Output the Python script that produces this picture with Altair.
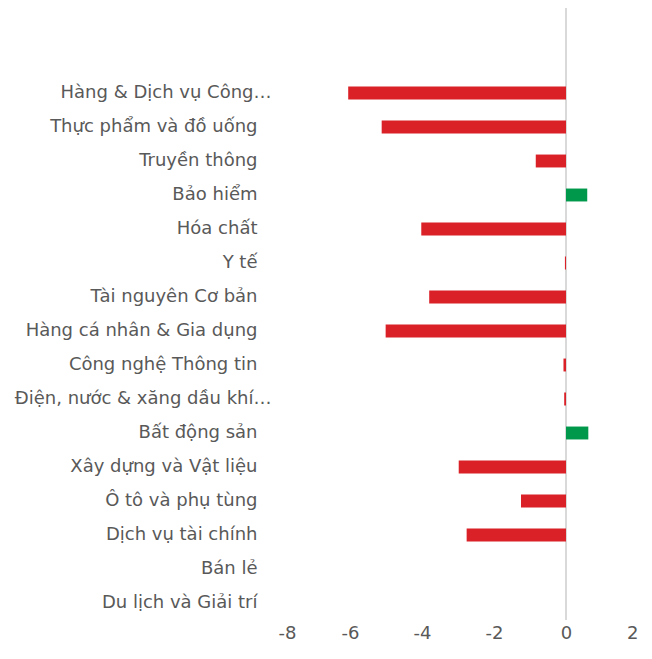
import altair as alt
import pandas as pd

categories = [
    "Hàng & Dịch vụ Công…",
    "Thực phẩm và đồ uống",
    "Truyền thông",
    "Bảo hiểm",
    "Hóa chất",
    "Y tế",
    "Tài nguyên Cơ bản",
    "Hàng cá nhân & Gia dụng",
    "Công nghệ Thông tin",
    "Điện, nước & xăng dầu khí…",
    "Bất động sản",
    "Xây dựng và Vật liệu",
    "Ô tô và phụ tùng",
    "Dịch vụ tài chính",
    "Bán lẻ",
    "Du lịch và Giải trí",
]
values = [-6.05, -5.12, -0.84, 0.59, -4.02, -0.03, -3.80, -5.01, -0.07, -0.05,
          0.62, -2.98, -1.25, -2.76, 0.0, 0.0]
blank_rows = [" ", "  "]
x_ticks = [-8, -6, -4, -2, 0, 2]

RED = "#DA2128"
GREEN = "#00994C"
TEXT = "#595959"
FONT = "DejaVu Sans"

df = pd.DataFrame({"cat": categories, "value": values})
df["color"] = [GREEN if v > 0 else RED for v in values]

y_domain = blank_rows + categories
xscale = alt.Scale(domain=[-8, 2], nice=False, zero=False)
yscale = alt.Scale(domain=y_domain, paddingInner=0.62, paddingOuter=0.31)

bars = alt.Chart(df).mark_bar().encode(
    x=alt.X("value:Q", scale=xscale,
            axis=alt.Axis(values=x_ticks, title=None, grid=False, domain=False,
                          ticks=False, labelPadding=4, labelFontSize=18,
                          labelColor=TEXT, labelFont=FONT,
                          labelExpr="'' + datum.value")),
    y=alt.Y("cat:N", scale=yscale, sort=y_domain,
            axis=alt.Axis(title=None, domain=False, ticks=False, grid=False,
                          labelPadding={"condition": {"test": "indexof(datum.label, '…') >= 0", "value": 7}, "value": 21},
                          labelFontSize=18, labelColor=TEXT,
                          labelFont=FONT, labelLimit=400)),
    color=alt.Color("color:N", scale=None),
)

zero_rule = alt.Chart(pd.DataFrame({"x": [0]})).mark_rule(
    color="#d9d9d9", strokeWidth=2
).encode(x=alt.X("x:Q", scale=xscale))

chart = alt.layer(zero_rule, bars).properties(
    width=360, height=612,
    background="white",
    autosize=alt.AutoSizeParams(type="none"),
    padding={"left": 270, "top": 0, "right": 6, "bottom": 23},
).configure_view(stroke=None)

chart.save("out.html", embed_options={"renderer": "svg", "actions": False})
